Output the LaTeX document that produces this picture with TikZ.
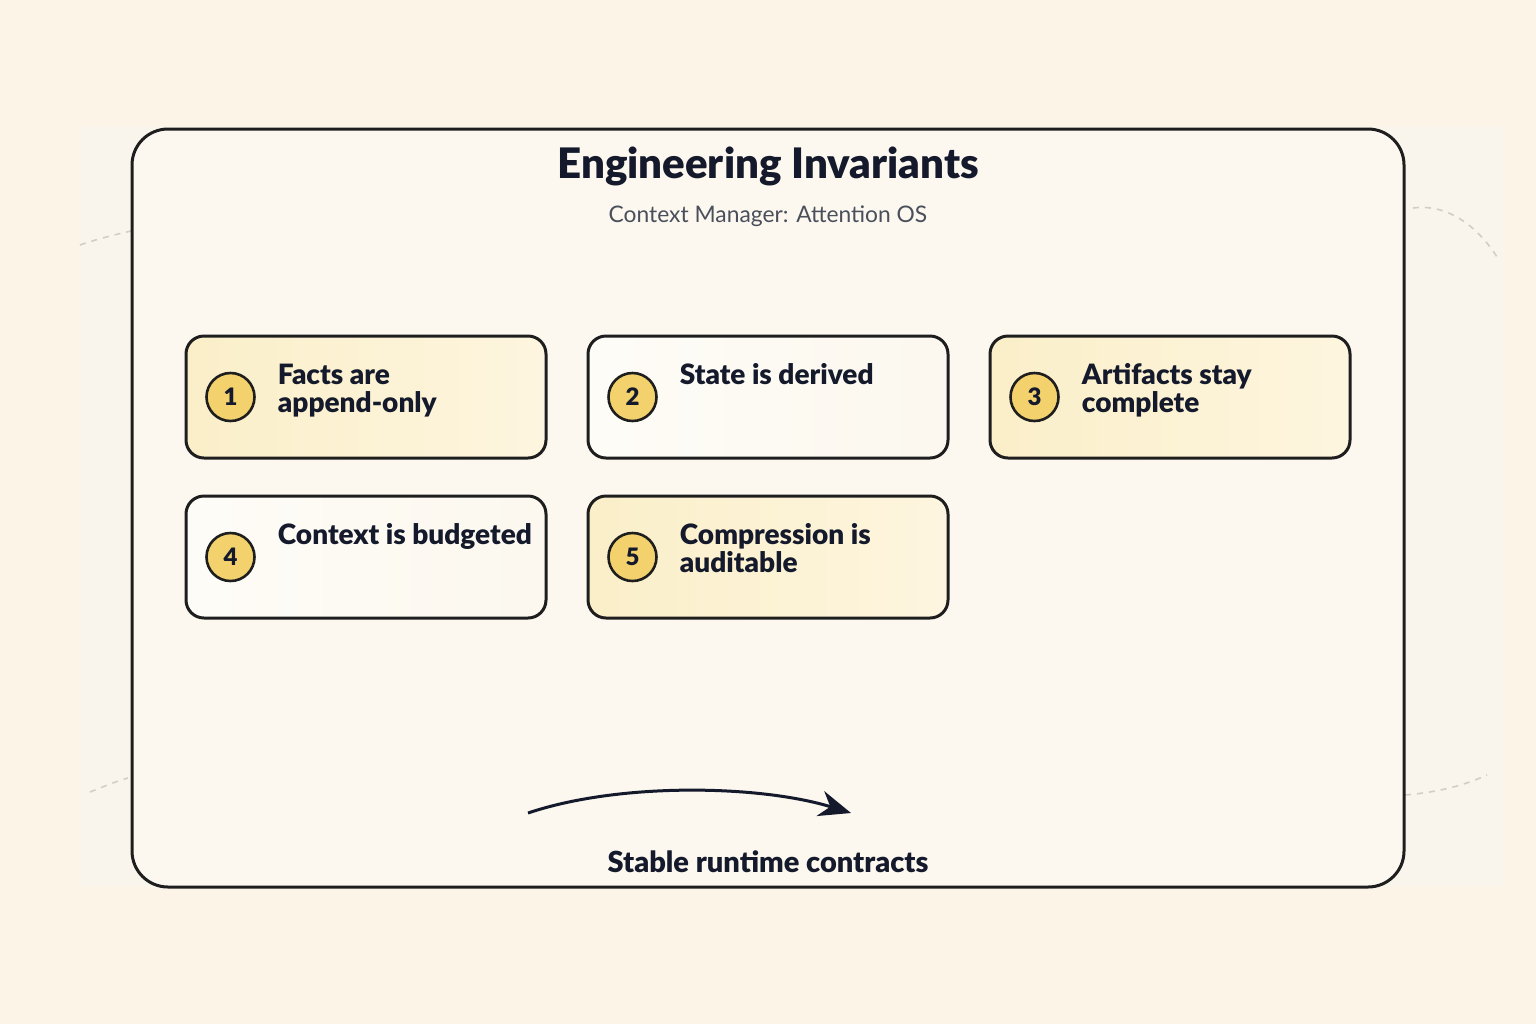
\documentclass[tikz,border=0pt]{standalone}
\usepackage{fontspec}
\setmainfont{Lato}[BoldFont={Lato Black}]
\usetikzlibrary{positioning,arrows.meta}
\definecolor{ink}{HTML}{141A2B}
\definecolor{subtle}{HTML}{4A4F5C}
\definecolor{frame}{HTML}{1E1E1E}
\definecolor{paper}{HTML}{FBF4E7}
\definecolor{panel}{HTML}{FAF5EC}
\definecolor{boardfill}{HTML}{FCF8EF}
\definecolor{cardyellow}{HTML}{FBEFC9}
\definecolor{cardpale}{HTML}{FDF5DF}
\definecolor{cardwhite}{HTML}{FEFCF7}
\definecolor{badgefill}{HTML}{F3D26E}
\definecolor{trail}{HTML}{D3CEC5}

\begin{document}
\begin{tikzpicture}[x=0.5pt, y=-0.5pt, node distance=17.5pt and 19.5pt,
    every node/.style={font=\bfseries, text=ink},
    card/.style={draw=frame, line width=1.5pt, rounded corners=9pt, minimum width=180pt, minimum height=61pt},
    warmcard/.style={card, left color=cardyellow, right color=cardpale},
    plaincard/.style={card, left color=cardwhite, right color=boardfill},
    badge/.style={circle, draw=frame, line width=1.3pt, fill=badgefill, minimum size=24pt, inner sep=0pt, font=\bfseries\fontsize{12}{13}\selectfont},
    cardtext/.style={anchor=north west, inner sep=0pt, align=left, font=\bfseries\fontsize{14}{14}\selectfont},
    trailline/.style={draw=trail, line width=0.8pt, dashed}]
        \useasboundingbox (0,0) rectangle (1536,1024);
        \fill[paper] (0,0) rectangle (1536,1024);
        \fill[panel] (80,127) rectangle (1503,887);
        \draw[trailline] (80,245) .. controls (100,238) and (118,234) .. (131,231);
        \draw[trailline] (1413,208) .. controls (1450,203) and (1480,230) .. (1497,257);
        \draw[trailline] (90,792) .. controls (105,786) and (117,781) .. (128,778);
        \draw[trailline] (1405,795) .. controls (1440,792) and (1465,785) .. (1487,775);
        \node[draw=frame, line width=1.5pt, rounded corners=18pt, fill=boardfill, minimum width=636pt, minimum height=379pt] (board) at (768,508) {};
        \node[font=\bfseries\fontsize{21}{25}\selectfont] (title) at (768,166) {Engineering Invariants};
        \node[font=\fontsize{11.4}{13}\selectfont, text=subtle] (subtitle) at (768,216) {Context Manager: Attention OS};
        \node[warmcard] (facts) at (366,397) {};
        \node[plaincard, right=of facts] (state) {};
        \node[warmcard, right=of state] (artifacts) {};
        \node[plaincard, below=of facts] (budget) {};
        \node[warmcard, below=of state] (compress) {};
        \node[badge] (b1) at ([xshift=23pt]facts.west) {1};
        \node[badge] (b2) at ([xshift=23pt]state.west) {2};
        \node[badge] (b3) at ([xshift=23pt]artifacts.west) {3};
        \node[badge] (b4) at ([xshift=23pt]budget.west) {4};
        \node[badge] (b5) at ([xshift=23pt]compress.west) {5};
        \node[cardtext] (t1) at ([xshift=46.5pt, yshift=-14.5pt]facts.north west) {Facts are\\append-only};
        \node[cardtext] (t2) at ([xshift=46.5pt, yshift=-14.5pt]state.north west) {State is derived};
        \node[cardtext] (t3) at ([xshift=46.5pt, yshift=-14.5pt]artifacts.north west) {Artifacts stay\\complete};
        \node[cardtext] (t4) at ([xshift=46.5pt, yshift=-14.5pt]budget.north west) {Context is budgeted};
        \node[cardtext] (t5) at ([xshift=46.5pt, yshift=-14.5pt]compress.north west) {Compression is\\auditable};
        \coordinate (flowstart) at (528,813);
        \coordinate (flowend) at (851,813);
        \draw[ink, line width=1.5pt, -{Stealth[length=16pt, width=13pt]}] (flowstart) .. controls (620,782) and (760,785) .. (flowend);
        \node[font=\bfseries\fontsize{14.5}{16}\selectfont] (contracts) at (768,862) {Stable runtime contracts};
    \end{tikzpicture}
\end{document}
